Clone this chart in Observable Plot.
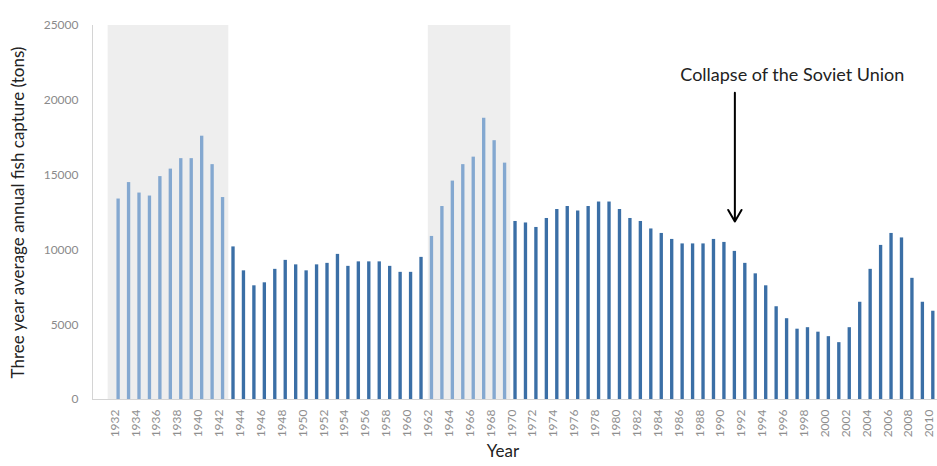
<!DOCTYPE html>
<html>
<head>
<meta charset="utf-8">
<script src="https://cdn.jsdelivr.net/npm/d3@7"></script>
<script src="https://cdn.jsdelivr.net/npm/@observablehq/plot@0.6"></script>
<style>
  html, body { margin: 0; padding: 0; background: #fff; }
  #chart svg { display: block; font-family: Lato, "Open Sans", sans-serif; }
</style>
</head>
<body>
<div id="chart"></div>
<script>
const years = d3.range(1932, 2011);
const capture = [
  13400, 14500, 13800, 13600, 14900, 15400, 16100, 16100, 17600, 15700,
  13500, 10200, 8600, 7600, 7800, 8700, 9300, 9000, 8600, 9000,
  9100, 9700, 8900, 9200, 9200, 9200, 8900, 8500, 8500, 9500,
  10900, 12900, 14600, 15700, 16200, 18800, 17300, 15800, 11900, 11800,
  11500, 12100, 12700, 12900, 12600, 12900, 13200, 13200, 12700, 12100,
  11900, 11400, 11100, 10700, 10400, 10400, 10400, 10700, 10500, 9900,
  9100, 8400, 7600, 6200, 5400, 4700, 4800, 4500, 4200, 3800,
  4800, 6500, 8700, 10300, 11100, 10800, 8100, 6500, 5900
];
const bandStart = [1931.0, 1961.65];
const bandEnd = [1942.55, 1969.55];
const yTicks = [0, 5000, 10000, 15000, 20000, 25000];
const xTickYears = d3.range(1932, 2011, 2);
const annotationText = ["Collapse of the Soviet Union"];
const annotationPos = [{x: 1996.5, y: 21700}];
const arrowPos = [{x: 1991, y1: 20500, y2: 11900}];

const data = years.map((y, i) => ({
  year: y,
  value: capture[i],
  shaded: bandStart.some((s, k) => y > s && y < bandEnd[k])
}));
const bands = bandStart.map((s, i) => ({x1: s, x2: bandEnd[i]}));

const chart = Plot.plot({
  width: 937,
  height: 466,
  marginLeft: 92,
  marginRight: 0,
  marginTop: 25,
  marginBottom: 67,
  x: {domain: [1929.5, 2010.4], axis: null},
  y: {domain: [0, 25000], axis: null},
  marks: [
    Plot.rect(bands, {x1: "x1", x2: "x2", y1: 0, y2: 25000, fill: "#eeeeee"}),
    Plot.ruleX([1929.5], {y1: 0, y2: 25000, stroke: "#d4d4d4"}),
    Plot.ruleY([0], {stroke: "#d4d4d4"}),
    Plot.rect(data, {
      x1: d => d.year - 0.16,
      x2: d => d.year + 0.16,
      y1: 0,
      y2: "value",
      fill: d => d.shaded ? "#84a8d0" : "#3b6fa6"
    }),
    Plot.axisY({
      ticks: yTicks,
      tickFormat: d3.format("d"),
      tickSize: 0,
      tickPadding: 14,
      fontSize: 12,
      color: "#8a8a8a",
      label: null
    }),
    Plot.text(xTickYears, {
      x: d => d,
      frameAnchor: "bottom",
      text: d => String(d),
      rotate: -90,
      textAnchor: "end",
      dy: 10,
      fontSize: 12,
      fill: "#8f8f8f"
    }),
    Plot.text(["Three year average annual fish capture (tons)"], {
      frameAnchor: "left",
      rotate: -90,
      textAnchor: "middle",
      dx: -74,
      fontSize: 17,
      fill: "#222"
    }),
    Plot.text(["Year"], {
      x: [1968.8],
      frameAnchor: "bottom",
      dy: 57,
      fontSize: 17,
      fill: "#222"
    }),
    Plot.text(annotationPos, {
      x: "x",
      y: "y",
      text: () => annotationText[0],
      fontSize: 18,
      fill: "#222"
    }),
    Plot.arrow(arrowPos, {
      x1: "x", x2: "x", y1: "y1", y2: "y2",
      stroke: "#000",
      strokeWidth: 2,
      headLength: 10
    })
  ]
});
document.getElementById("chart").append(chart);
</script>
</body>
</html>
